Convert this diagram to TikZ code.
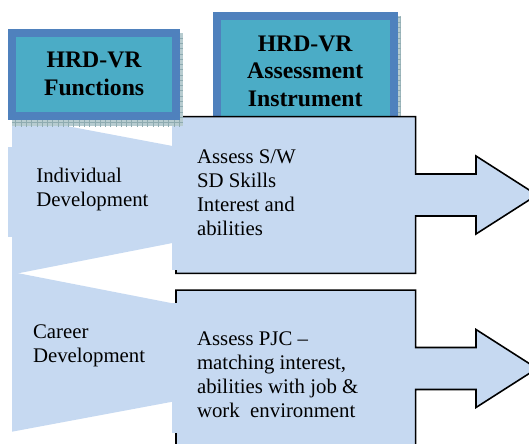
\documentclass[tikz,border=0pt]{standalone}
\usepackage{fontspec}
\setmainfont{Liberation Serif}
\usepackage{xcolor}
\usetikzlibrary{patterns}
\definecolor{hdblue}{HTML}{4F81BD}
\definecolor{hdteal}{HTML}{4BACC6}
\definecolor{hdshade}{HTML}{B7CCD0}
\definecolor{hdgrid}{HTML}{8EABB1}
\definecolor{panelblue}{HTML}{C6D9F1}

\begin{document}
\begin{tikzpicture}[
  hdbox/.style={draw=hdblue, fill=hdteal, line width=0.16cm, align=center,
    font=\fontsize{13.5pt}{15.7pt}\selectfont\bfseries},
  hdshadow/.style={fill=hdshade, postaction={pattern=grid, pattern color=hdgrid}},
  panel/.style={fill=panelblue},
  callout/.style={fill=panelblue, draw=black, line width=0.9pt, line join=miter},
  celltxt/.style={align=left, anchor=north west, inner sep=0pt,
    font=\fontsize{11.84pt}{13.6pt}\selectfont},
]
% page: 10.58 x 8.88 cm, arrow tips run off the right edge
\useasboundingbox (0,0) rectangle (10.58,8.88);

% instrument header sits behind the callouts
\fill[hdshadow] (4.32,8.56) rectangle (8.014,6.14);
\node[hdbox, minimum width=3.54cm, minimum height=2.22cm] (hdinst) at (6.104,7.456) {HRD-VR\\Assessment\\Instrument};

% boxes with right arrows, second one runs past the bottom
\foreach \yb in {6.546,3.076} {
  \draw[callout] (3.52,\yb) -- ++(4.794,0) -- ++(0,-1.146) -- ++(1.206,0) -- ++(0,0.36)
    -- ++(1.22,-0.78) -- ++(-1.22,-0.78) -- ++(0,0.36) -- ++(-1.206,0)
    -- ++(0,-1.146) -- ++(-4.794,0) -- cycle;
}
\fill[panel] (3.434,6.366) rectangle (8.1,3.48);
\fill[panel] (3.434,2.826) rectangle (8.1,0.22);

% function wedges on the left
\fill[panel] (0.24,6.566) -- (3.45,5.96) -- (3.45,4.02) -- (0.24,3.39) -- cycle;
\fill[panel] (0.166,5.946) rectangle (3.45,4.146);
\fill[panel] (0.24,3.44) -- (3.45,2.814) -- (3.45,0.846) -- (0.24,0.246) -- cycle;

\node[celltxt] (indiv) at (0.72,5.52) {Individual\\Development};
\node[celltxt] (career) at (0.654,2.385) {Career\\Development};
\node[celltxt] (assesssw) at (3.934,5.885) {Assess S/W\\SD Skills\\Interest and\\abilities};
\node[celltxt] (assesspjc) at (3.934,2.25) {Assess PJC –\\matching interest,\\abilities with job \&\\work\ \ environment};

% functions header on top
\fill[hdshadow] (0.24,8.22) rectangle (3.66,6.36);
\node[hdbox, minimum width=3.264cm, minimum height=1.66cm] (hdfunc) at (1.882,7.40) {HRD-VR\\Functions};
\end{tikzpicture}
\end{document}
